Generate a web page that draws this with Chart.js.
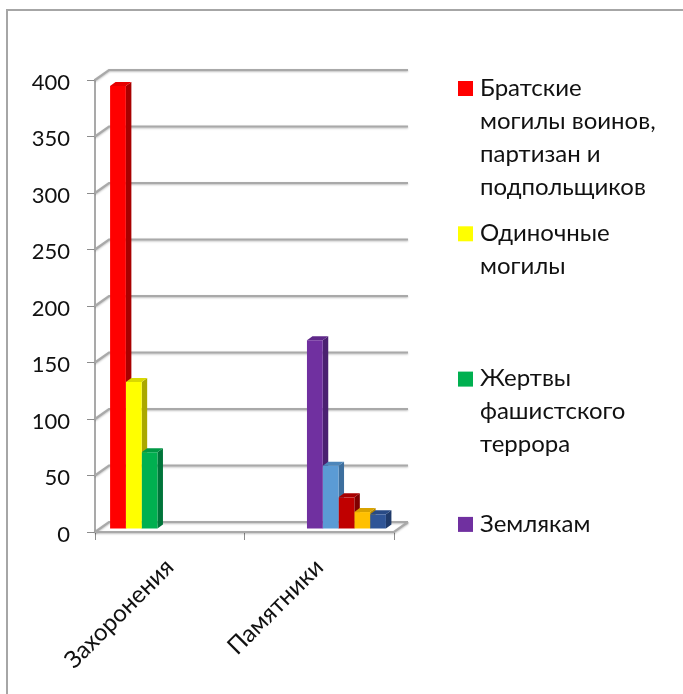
<!DOCTYPE html>
<html><head><meta charset="utf-8">
<script src="https://cdn.jsdelivr.net/npm/chart.js@4"></script>
<style>html,body{margin:0;padding:0;background:#fff}canvas{display:block}</style></head>
<body><canvas id="c" width="683" height="694"></canvas>
<script>
const categories = ["Захоронения", "Памятники"];
const yTicks = [0, 50, 100, 150, 200, 250, 300, 350, 400];
const seriesBratskie = [392, null];
const seriesOdinochnye = [130, null];
const seriesZhertvy = [68, null];
const seriesZemlyakam = [null, 167];
const seriesE = [null, 56];
const seriesF = [null, 28];
const seriesG = [null, 15];
const seriesH = [null, 13];
const legendLines = [
  ["Братские", "могилы воинов,", "партизан и", "подпольщиков"],
  ["Одиночные", "могилы"],
  ["Жертвы", "фашистского", "террора"],
  ["Землякам"]
];
const FONT = 'Lato, "Open Sans", sans-serif';
const DX = 14, DY = 10;
const frontColors = ["#ff0000","#ffff00","#00b050","#7030a0","#5b9bd5","#c00000","#ffc000","#2f5597"];
const sideColors  = ["#a80000","#aaa800","#00753a","#4a2070","#3d6f9e","#800000","#b08600","#1f3a6a"];
const topColors   = ["#e60000","#d9d900","#009945","#5f2889","#4d86ba","#a80000","#d9a300","#284a85"];
const allValues = [seriesBratskie,seriesOdinochnye,seriesZhertvy,seriesZemlyakam,seriesE,seriesF,seriesG,seriesH];

const depth3d = {
  id: "depth3d",
  afterDatasetsUpdate(chart) {
    chart.data.datasets.forEach((d, i) => {
      chart.getDatasetMeta(i).data.forEach(el => {
        el.x += 3.5; el.y -= 3; el.base -= 3;
      });
    });
  },
  beforeDraw(chart) {
    chart.scales.y.getLabelItems().forEach(it => { it.textOffset = 2.5; });
  },
  beforeDatasetsDraw(chart) {
    const { ctx, scales: { x, y } } = chart;
    const L = x.left, R = x.right;
    ctx.save();
    ctx.strokeStyle = "#a9a9a9";
    ctx.lineWidth = 2.2;
    ctx.shadowColor = "rgba(0,0,0,0.25)";
    ctx.shadowBlur = 2;
    ctx.shadowOffsetY = 1;
    yTicks.forEach(v => {
      const p = y.getPixelForValue(v);
      ctx.beginPath();
      ctx.moveTo(L, p);
      ctx.lineTo(L + DX, p - DY);
      ctx.lineTo(R + DX, p - DY);
      ctx.stroke();
    });
    const b = y.getPixelForValue(0);
    ctx.beginPath();
    ctx.moveTo(L, b);
    ctx.lineTo(R, b);
    ctx.lineTo(R + DX, b - DY);
    ctx.stroke();
    ctx.restore();
    const dx = 5.5, dy = 4;
    chart.data.datasets.forEach((d, i) => {
      chart.getDatasetMeta(i).data.forEach((el, j) => {
        if (d.data[j] === null) return;
        const l = el.x - el.width / 2, r = el.x + el.width / 2, t = el.y, bb = el.base;
        ctx.fillStyle = sideColors[i];
        ctx.beginPath();
        ctx.moveTo(r, t); ctx.lineTo(r + dx, t - dy); ctx.lineTo(r + dx, bb - dy); ctx.lineTo(r, bb);
        ctx.closePath(); ctx.fill();
        ctx.fillStyle = topColors[i];
        ctx.beginPath();
        ctx.moveTo(l, t); ctx.lineTo(l + dx, t - dy); ctx.lineTo(r + dx, t - dy); ctx.lineTo(r, t);
        ctx.closePath(); ctx.fill();
      });
    });
  },
  afterDraw(chart) {
    const { ctx } = chart;
    ctx.save();
    ctx.strokeStyle = "#a6a6a6";
    ctx.lineWidth = 2;
    ctx.beginPath();
    ctx.moveTo(7, 694); ctx.lineTo(7, 10); ctx.lineTo(683, 10);
    ctx.stroke();
    ctx.font = "24px " + FONT;
    ctx.textBaseline = "middle";
    ctx.textAlign = "left";
    legendLines.forEach((lines, i) => {
      const y0 = 88 + i * 145.3;
      ctx.fillStyle = frontColors[i < 3 ? i : 3];
      ctx.fillRect(458, y0 - 7, 15, 15);
      ctx.fillStyle = "#111";
      lines.forEach((s, k) => ctx.fillText(s, 480, y0 + k * 33));
    });
    ctx.restore();
  }
};

new Chart(document.getElementById("c"), {
  type: "bar",
  data: {
    labels: categories,
    datasets: allValues.map((v, i) => ({
      data: v, backgroundColor: frontColors[i], borderWidth: 0,
      categoryPercentage: 0.845, barPercentage: 1
    }))
  },
  options: {
    responsive: false,
    animation: false,
    devicePixelRatio: 1,
    layout: { padding: { left: 0, top: 80, right: 289, bottom: 0 } },
    plugins: { legend: { display: false }, tooltip: { enabled: false } },
    scales: {
      x: {
        afterFit(s) { s.height = 162; },
        border: { color: "#a9a9a9", width: 2 },
        grid: { drawOnChartArea: false, drawTicks: true, tickLength: 8, color: "#8c8c8c", offset: true },
        ticks: { minRotation: 45, maxRotation: 45, padding: 13, color: "#111", font: { family: FONT, size: 24 } }
      },
      y: {
        min: 0, max: 400,
        afterFit(s) { s.width = 95; },
        border: { color: "#a9a9a9", width: 2 },
        grid: { drawOnChartArea: false, drawTicks: true, tickLength: 8, color: "#8c8c8c" },
        ticks: { stepSize: 50, padding: 17, color: "#111", font: { family: FONT, size: 22 } }
      }
    }
  },
  plugins: [depth3d]
});
</script></body></html>
